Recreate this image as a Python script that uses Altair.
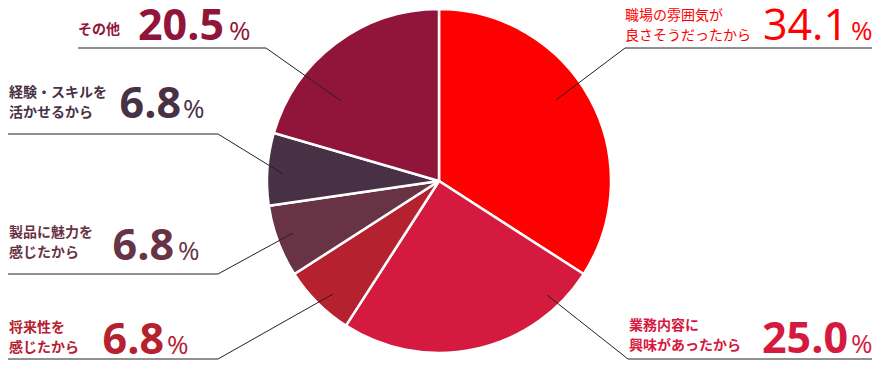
import altair as alt
import pandas as pd

# ---- data ----
categories = ["職場の雰囲気が良さそうだったから", "業務内容に興味があったから", "将来性を感じたから",
              "製品に魅力を感じたから", "経験・スキルを活かせるから", "その他"]
values = [34.1, 25.0, 6.8, 6.8, 6.8, 20.5]
label_line1 = ["職場の雰囲気が", "業務内容に", "将来性を", "製品に魅力を", "経験・スキルを", "その他"]
label_line2 = ["良さそうだったから", "興味があったから", "感じたから", "感じたから", "活かせるから", ""]
colors = ["#FF0000", "#D51A40", "#B5212F", "#683345", "#483045", "#91153A"]

# ---- layout (screen px) ----
W, H = 864, 352
CX, CY, R = 439, 181, 172
label_x = [625, 629, 9, 9, 9, 78]
label_y1 = [16, 326, 328, 233, 93, 30]
line_gap = 20
num_right = [848, 848, 164, 174, 181, 224]
pct_x = [851, 851, 167, 178, 183, 229]
num_base = [40, 353, 354, 260, 118, 40]
label_weight = ["normal", "bold", "bold", "bold", "bold", "bold"]
num_weight = ["normal", "bold", "bold", "bold", "bold", "bold"]
leader = [
    [(556, 100), (625, 48), (872, 48)],
    [(547, 295), (628, 359), (872, 359)],
    [(333, 294), (218, 359), (8, 359)],
    [(293, 233), (218, 274), (8, 274)],
    [(283, 174), (218, 134), (8, 134)],
    [(341, 101), (266, 48), (78, 48)],
]

pie_df = pd.DataFrame({"cat": categories, "value": values, "idx": list(range(len(values)))})

xs = alt.Scale(domain=[8, 8 + W], range=[0, W], nice=False, zero=False)
ys = alt.Scale(domain=[8, 8 + H], range=[0, H], nice=False, zero=False)
cs = alt.Scale(domain=categories, range=colors)

pie = alt.Chart(pie_df).mark_arc(outerRadius=R, stroke="white", strokeWidth=2.5).encode(
    theta=alt.Theta("value:Q", stack=True),
    order=alt.Order("idx:Q"),
    color=alt.Color("cat:N", scale=cs, legend=None),
    x=alt.value(CX - 8), y=alt.value(CY - 8),
)

rows = []
for i, pts in enumerate(leader):
    for j, (px, py) in enumerate(pts):
        rows.append({"cat": categories[i], "pt": j, "x": px, "y": py})
lines = alt.Chart(pd.DataFrame(rows)).mark_line(color="#222222", strokeWidth=1).encode(
    x=alt.X("x:Q", scale=xs, axis=None),
    y=alt.Y("y:Q", scale=ys, axis=None),
    detail="cat:N",
    order="pt:Q",
)

lab_rows = []
for i in range(len(categories)):
    lab_rows.append({"cat": categories[i], "t": label_line1[i], "x": label_x[i], "y": label_y1[i], "w": label_weight[i]})
    if label_line2[i]:
        lab_rows.append({"cat": categories[i], "t": label_line2[i], "x": label_x[i], "y": label_y1[i] + line_gap, "w": label_weight[i]})
lab_df = pd.DataFrame(lab_rows)

def text_layer(df, weight, **kw):
    return alt.Chart(df).mark_text(fontWeight=weight, **kw).encode(
        x=alt.X("x:Q", scale=xs, axis=None),
        y=alt.Y("y:Q", scale=ys, axis=None),
        text="t:N",
        color=alt.Color("cat:N", scale=cs, legend=None),
    )

labels_n = text_layer(lab_df[lab_df.w == "normal"], "normal", align="left", baseline="middle",
                      font="Noto Sans CJK JP", fontSize=14)
labels_b = text_layer(lab_df[lab_df.w == "bold"], "bold", align="left", baseline="middle",
                      font="Noto Sans CJK JP", fontSize=14)

num_df = pd.DataFrame({"cat": categories, "t": [f"{v:.1f}" for v in values],
                       "x": num_right, "y": num_base, "w": num_weight})
nums_n = text_layer(num_df[num_df.w == "normal"], "normal", align="right", baseline="alphabetic",
                    font="Open Sans", fontSize=43)
nums_b = text_layer(num_df[num_df.w == "bold"], "bold", align="right", baseline="alphabetic",
                    font="Open Sans", fontSize=43)

pct_df = pd.DataFrame({"cat": categories, "t": ["%"] * len(categories), "x": pct_x, "y": num_base})
pcts = text_layer(pct_df, "normal", align="left", baseline="alphabetic", font="Open Sans", fontSize=26)

chart = alt.layer(pie, lines, labels_n, labels_b, nums_n, nums_b, pcts).resolve_scale(
    color="shared"
).properties(
    width=W, height=H, padding=0, autosize=alt.AutoSizeParams(type="none")
).configure_view(strokeWidth=0)

chart.save("out.html", embed_options={"renderer": "svg", "actions": False})
